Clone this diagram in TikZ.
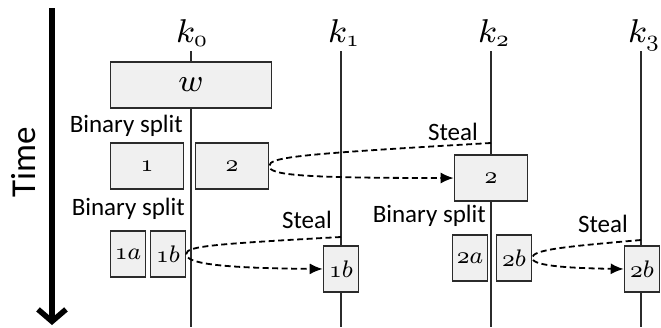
\RequirePackage{fix-cm}
\documentclass[tikz,border=0pt]{standalone}
\usepackage{fontspec}
\newfontfamily\calibri{Carlito}
\usetikzlibrary{arrows.meta}
% sturdier math italic at large sizes
\DeclareFontShape{OML}{cmm}{m}{it}{<->cmmi8}{}
\definecolor{linegray}{HTML}{2B2B2B}
\definecolor{boxfill}{HTML}{F0F0F0}
\tikzset{
  tline/.style={draw=linegray, line width=1.8pt},
  blk/.style={draw=linegray, fill=boxfill, line width=1.6pt, inner sep=0pt,
    minimum height=46pt, font=\fontsize{24}{28}\selectfont},
  wideblk/.style={blk, minimum width=73pt},
  narrowblk/.style={blk, minimum width=35pt},
  lbl/.style={font=\calibri\fontsize{25}{29}\selectfont, inner sep=0pt},
  klabel/.style={font=\fontsize{33}{38}\selectfont, inner sep=0pt, anchor=base west},
  stealpath/.style={draw=black, line width=1.8pt, dash pattern=on 6pt off 3.5pt,
    -{Latex[length=13pt,width=11pt]}}
}
\begin{document}
\begin{tikzpicture}[x=1pt,y=-1pt]
\useasboundingbox (0,0) rectangle (661,327);

% time axis
\coordinate (tstart) at (52,8);
\coordinate (tend) at (52,325);
\draw[line width=5.5pt, -{Straight Barb[length=12pt,width=28pt]}] (tstart) -- (tend);
\node[rotate=90, anchor=base, inner sep=0pt, font=\calibri\fontsize{35}{40}\selectfont] (time) at (35,162) {Time};

% processor time lines
\foreach \i/\x in {0/191,1/341,2/491,3/641}{
  \coordinate (k\i top) at (\x,51);
  \coordinate (k\i bot) at (\x,327);
  \draw[tline] (k\i top) -- (k\i bot);
}
\node[klabel] (k0) at (176,42) {$k_{\mathnormal{0}}$};
\node[klabel] (k1) at (328,42) {$k_{\mathnormal{1}}$};
\node[klabel] (k2) at (478,42) {$k_{\mathnormal{2}}$};
\node[klabel] (k3) at (628,42) {$k_{\mathnormal{3}}$};

% work blocks
\node[blk, minimum width=161pt, font=\fontsize{32}{36}\selectfont] (w) at (191,85) {$w$};
\node[wideblk] (b1) at (147,166) {$\mathnormal{1}$};
\node[wideblk] (b2) at (232,166) {$\mathnormal{2}$};
\node[wideblk] (c2) at (491,178) {$\mathnormal{2}$};
\node[narrowblk] (b1a) at (128,254) {$\mathnormal{1}a$};
\node[narrowblk] (b1b) at (168,254) {$\mathnormal{1}b$};
\node[narrowblk] (c1b) at (341,269) {$\mathnormal{1}b$};
\node[narrowblk] (b2a) at (470,258) {$\mathnormal{2}a$};
\node[narrowblk] (b2b) at (514,258) {$\mathnormal{2}b$};
\node[narrowblk] (c2b) at (642,269) {$\mathnormal{2}b$};

% text labels
\node[lbl, anchor=base east] (bs1) at (183,132) {Binary split};
\node[lbl, anchor=base east] (bs2) at (185,215) {Binary split};
\node[lbl, anchor=base east] (bs3) at (486,222) {Binary split};
\node[lbl, anchor=base east] (st1) at (478,140) {Steal};
\node[lbl, anchor=base east] (st2) at (332,228) {Steal};
\node[lbl, anchor=base east] (st3) at (628,232) {Steal};

% steal transfers
\coordinate (s1) at (491,143);
\coordinate (s2) at (341,237);
\coordinate (s3) at (641,240);
\draw[stealpath] (s1) .. controls (300,154) and (269,157) .. (b2.east)
  .. controls (269,175) and (300,178) .. (c2.west);
\draw[stealpath] (s2) .. controls (215,244) and (186,246) .. (b1b.east)
  .. controls (186,263) and (215,268) .. (c1b.west);
\draw[stealpath] (s3) .. controls (560,247) and (532,250) .. (b2b.east)
  .. controls (532,265) and (560,268) .. (c2b.west);
\end{tikzpicture}
\end{document}
